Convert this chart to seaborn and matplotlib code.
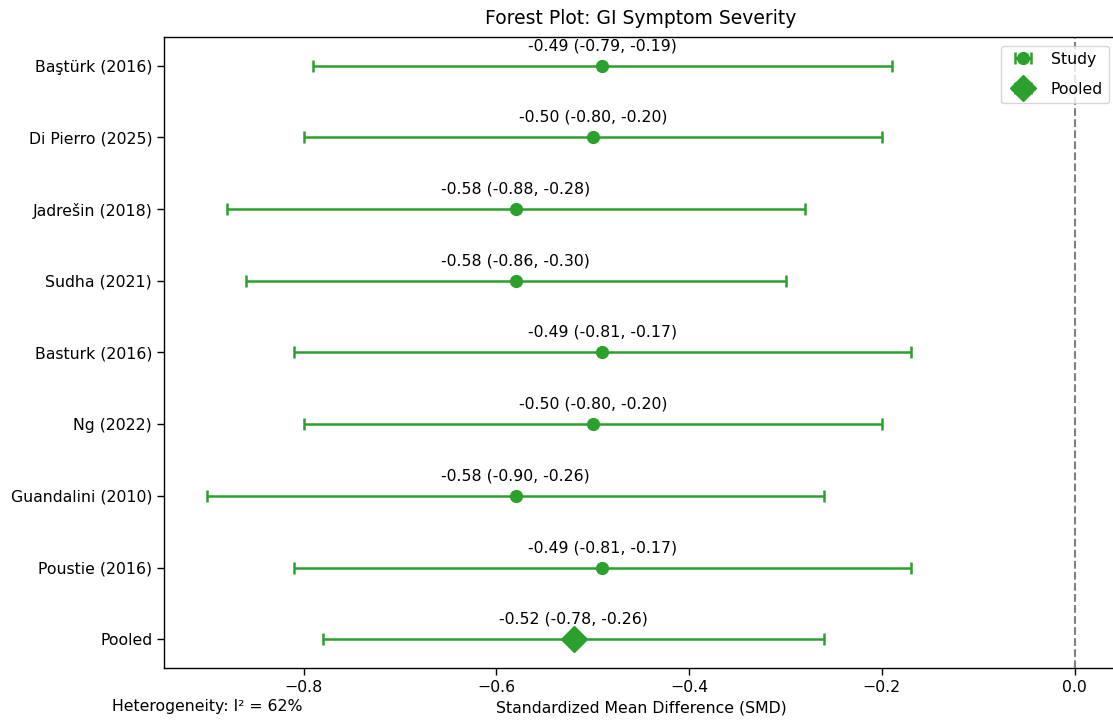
import numpy as np
import matplotlib
matplotlib.use("Agg")
import matplotlib.pyplot as plt
import seaborn as sns

studies = ["Baştürk (2016)", "Di Pierro (2025)", "Jadrešin (2018)", "Sudha (2021)",
           "Basturk (2016)", "Ng (2022)", "Guandalini (2010)", "Poustie (2016)"]
smd = [-0.49, -0.50, -0.58, -0.58, -0.49, -0.50, -0.58, -0.49]
ci_low = [-0.79, -0.80, -0.88, -0.86, -0.81, -0.80, -0.90, -0.81]
ci_high = [-0.19, -0.20, -0.28, -0.30, -0.17, -0.20, -0.26, -0.17]
pooled_label = "Pooled"
pooled_smd = -0.52
pooled_low = -0.78
pooled_high = -0.26
i2_text = "Heterogeneity: I² = 62%"

sns.set_theme(style="ticks")
plt.rcParams['font.family'] = ['DejaVu Sans']
plt.rcParams['text.color'] = 'black'
plt.rcParams['axes.labelcolor'] = 'black'
plt.rcParams['xtick.color'] = 'black'
plt.rcParams['ytick.color'] = 'black'

green = "#2ca02c"
FS = 11.3

fig = plt.figure(figsize=(11.13, 7.27), dpi=100)
W, H = 1113, 727
ax = fig.add_axes([164 / W, 1 - 668 / H, (1118 - 164) / W, (668 - 37) / H])

ys = np.arange(len(studies))
smd_a = np.array(smd)
err = np.vstack([smd_a - np.array(ci_low), np.array(ci_high) - smd_a])
ax.errorbar(smd_a, ys, xerr=err, fmt='o', color=green, ecolor=green,
            markersize=8.5, capsize=4, elinewidth=1.8, capthick=1.8, label="Study")
py = len(studies)
ax.errorbar([pooled_smd], [py], xerr=[[pooled_smd - pooled_low], [pooled_high - pooled_smd]],
            fmt='D', color=green, ecolor=green, markersize=13, capsize=4,
            elinewidth=1.8, capthick=1.8, label="Pooled")

for y, m, lo, hi in zip(ys, smd, ci_low, ci_high):
    ax.text(m, y - 0.28, f"{m:.2f} ({lo:.2f}, {hi:.2f})", ha='center', va='center',
            fontsize=FS, color='black')
ax.text(pooled_smd, py - 0.28, f"{pooled_smd:.2f} ({pooled_low:.2f}, {pooled_high:.2f})",
        ha='center', va='center', fontsize=FS, color='black')

ax.axvline(0, color='gray', linestyle='--', linewidth=1.5)

labels = studies + [pooled_label]
ax.set_yticks(np.arange(len(labels)))
ax.set_yticklabels(labels, fontsize=FS)
ax.set_ylim(len(labels) - 1 + 0.4, -0.4)
ax.set_xlim(-0.945, 0.045)
ax.set_xticks([-0.8, -0.6, -0.4, -0.2, 0.0])
ax.tick_params(axis='x', labelsize=FS)
for s in ax.spines.values():
    s.set_color('black')
    s.set_linewidth(1.0)
ax.tick_params(colors='black', length=5, width=1)

ax.set_xlabel("Standardized Mean Difference (SMD)", fontsize=FS, labelpad=4, color='black')
ax.set_title("Forest Plot: GI Symptom Severity", fontsize=13.5, pad=9, color='black')
ax.legend(loc='upper right', fontsize=FS, frameon=True, labelspacing=0.95,
          borderaxespad=0.55)
fig.text(112 / W, 1 - 707 / H, i2_text, fontsize=FS, ha='left', va='center', color='black')

fig.savefig("out.png", dpi=100)
